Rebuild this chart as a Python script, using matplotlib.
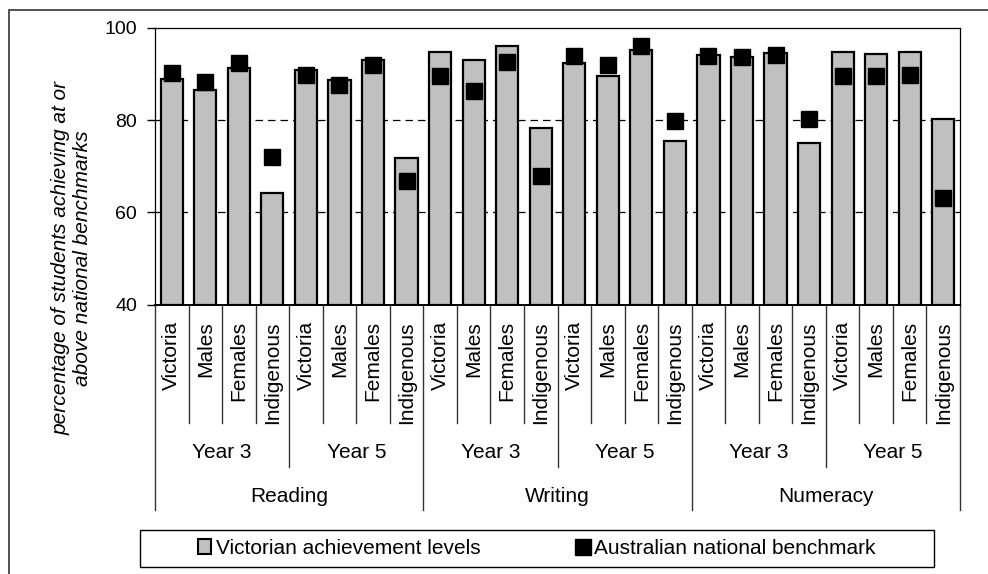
import numpy as np
import matplotlib.pyplot as plt
import matplotlib.transforms as mtransforms
from matplotlib.patches import Rectangle, Patch
from matplotlib.lines import Line2D

plt.rcParams['font.family'] = ['Liberation Sans', 'DejaVu Sans']

# data
subjects = ['Reading', 'Writing', 'Numeracy']
years = ['Year 3', 'Year 5']
groups = ['Victoria', 'Males', 'Females', 'Indigenous']
victoria = [88.9, 86.5, 91.3, 64.2, 90.8, 88.7, 93.1, 71.8,
            94.7, 93.0, 96.2, 78.2, 92.4, 89.5, 95.2, 75.4,
            94.2, 93.7, 94.5, 75.0, 94.7, 94.4, 94.8, 80.3]
national = [90.2, 88.3, 92.3, 72.0, 89.8, 87.7, 91.9, 66.9,
            89.5, 86.4, 92.6, 67.8, 93.9, 91.9, 96.2, 79.9,
            93.9, 93.7, 94.2, 80.2, 89.5, 89.5, 89.7, 63.2]

W, H = 988, 574
fig = plt.figure(figsize=(W / 100, H / 100), dpi=100)

def fy(py):
    return 1 - py / H

ax = fig.add_axes([155 / W, fy(304.5), (960 - 155) / W, (304.5 - 28) / H])
x = np.arange(len(victoria))
ax.bar(x, [v - 40 for v in victoria], bottom=40, width=0.66,
       color='#c0c0c0', edgecolor='black', linewidth=1.6, zorder=2)
ax.plot(x, national, 's', color='black', ms=11, zorder=3)

ax.set_xlim(-0.5, len(x) - 0.5)
ax.set_ylim(40, 100)
ax.set_yticks([40, 60, 80, 100])
ax.tick_params(axis='y', direction='out', length=6, width=1, pad=7, labelsize=14)
ax.tick_params(axis='x', bottom=False, labelbottom=False)
for yv in [60, 80]:
    ax.axhline(yv, color='black', lw=0.9, ls=(0, (6, 4)), zorder=1)
for s in ['top', 'right', 'left']:
    ax.spines[s].set_linewidth(0.9)
ax.spines['bottom'].set_linewidth(1.4)

# category axis: labels and separator lines
trans = mtransforms.blended_transform_factory(ax.transData, fig.transFigure)
for i in range(len(x)):
    ax.text(i, fy(321), groups[i % 4], rotation=90, ha='center', va='top',
            fontsize=15, transform=trans)
for b in range(len(x) + 1):
    xb = b - 0.5
    if b % 8 == 0:
        bottom = 510
    elif b % 4 == 0:
        bottom = 467
    else:
        bottom = 423
    ax.add_line(Line2D([xb, xb], [fy(304.5), fy(bottom)], transform=trans,
                       color='#333333', lw=1, clip_on=False))
for k in range(6):
    ax.text(4 * k + 1.5, fy(452), years[k % 2], ha='center', va='center',
            fontsize=15, transform=trans)
for k in range(3):
    ax.text(8 * k + 3.5, fy(497), subjects[k], ha='center', va='center',
            fontsize=15, transform=trans)

fig.text(72 / W, fy(258),
         'percentage of students achieving at or\nabove national benchmarks',
         rotation=90, ha='center', va='center', style='italic', fontsize=15,
         multialignment='center', linespacing=1.2)

# legend box
fig.add_artist(Rectangle((140 / W, fy(567)), (934 - 140) / W, 37 / H,
                         transform=fig.transFigure, fill=False,
                         edgecolor='black', lw=1))
handles = [Patch(facecolor='#c0c0c0', edgecolor='black', lw=1.5),
           Line2D([], [], marker='s', color='black', ls='none', ms=11)]
fig.legend(handles, ['Victorian achievement levels', 'Australian national benchmark'],
           loc='center', bbox_to_anchor=(537 / W, fy(548.5)), ncol=2,
           frameon=False, fontsize=15, handlelength=0.6, handleheight=0.75,
           handletextpad=0.25, columnspacing=4.6)

# outer figure frame
fig.add_artist(Rectangle((9 / W, -0.1), 1.0, fy(10) + 0.1,
                         transform=fig.transFigure, fill=False,
                         edgecolor='#333333', lw=1.2))

fig.savefig('out.png', dpi=100)
